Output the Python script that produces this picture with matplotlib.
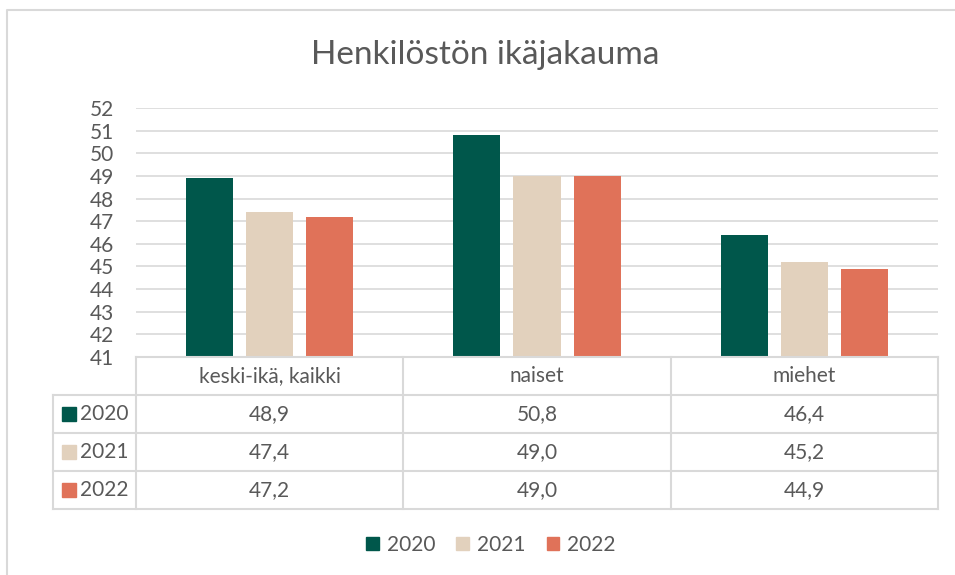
import numpy as np
import matplotlib.pyplot as plt
from matplotlib.patches import Rectangle

plt.rcParams['font.family'] = ['Lato', 'DejaVu Sans']

categories = ['keski-ikä, kaikki', 'naiset', 'miehet']
years = ['2020', '2021', '2022']
v2020 = [48.9, 50.8, 46.4]
v2021 = [47.4, 49.0, 45.2]
v2022 = [47.2, 49.0, 44.9]
series = [v2020, v2021, v2022]
colors = ['#00574B', '#E2D1BD', '#E07259']
txt = '#595959'
grid = '#D9D9D9'
fs = 15

W, H = 955, 575
fig = plt.figure(figsize=(W / 100, H / 100), dpi=100)

def box(x0, y0, x1, y1):
    # pixel box (top-left origin) -> figure fraction rect
    return [x0 / W, 1 - y1 / H, (x1 - x0) / W, (y1 - y0) / H]

# outer chart border (only left/top visible in the crop)
bg = fig.add_axes(box(0, 0, W, H))
bg.set_xlim(0, W)
bg.set_ylim(H, 0)
bg.axis('off')
bg.plot([7, 7, W + 5], [H + 5, 10, 10], color=grid, lw=1.5)

fig.text(485 / W, 1 - 55 / H, 'Henkilöstön ikäjakauma', ha='center', va='center',
         fontsize=24, color=txt)

# bar area
ax = fig.add_axes(box(136, 108, 938, 357))
x = np.arange(len(categories))
w = 0.176
step = 0.225
for i, (vals, c) in enumerate(zip(series, colors)):
    ax.bar(x + (i - 1) * step, np.array(vals) - 41, w, bottom=41, color=c, zorder=3)
ax.set_xlim(-0.5, 2.5)
ax.set_ylim(41, 52)
ax.set_yticks(range(41, 53))
ax.set_xticks([])
ax.grid(axis='y', color=grid, lw=1.2, zorder=0)
for s in ax.spines.values():
    s.set_visible(False)
ax.tick_params(axis='y', length=0, labelsize=fs, labelcolor=txt, pad=16)

# data table below the bars
tb = fig.add_axes(box(136, 357, 938, 509))
tb.set_xlim(-0.5, 2.5)
tb.set_ylim(4, 0)
tb.axis('off')
left = -0.5 - (136 - 53) / (802 / 3)
lk = dict(color=grid, lw=1.5, clip_on=False)
tb.plot([-0.5, 2.5], [0, 0], **lk)
for r in range(1, 5):
    tb.plot([left, 2.5], [r, r], **lk)
for cx in [-0.5, 0.5, 1.5, 2.5]:
    tb.plot([cx, cx], [0, 4], **lk)
tb.plot([left, left], [1, 4], **lk)
for j, cat in enumerate(categories):
    tb.text(j, 0.5, cat, ha='center', va='center', fontsize=fs, color=txt)
for i, (yr, vals, c) in enumerate(zip(years, series, colors)):
    r = i + 1.5
    tb.add_patch(Rectangle((left + 0.033, r - 0.18), 0.052, 0.36, color=c, clip_on=False))
    tb.text(left + 0.1, r, yr, ha='left', va='center', fontsize=fs, color=txt)
    for j, v in enumerate(vals):
        tb.text(j, r, f'{v:.1f}'.replace('.', ','), ha='center', va='center',
                fontsize=fs, color=txt)

handles = [Rectangle((0, 0), 1, 1, color=c) for c in colors]
fig.legend(handles, years, loc='center', bbox_to_anchor=(491 / W, 1 - 545 / H),
           ncol=3, frameon=False, fontsize=fs, labelcolor=txt,
           handlelength=0.6, handleheight=0.6, handletextpad=0.4, columnspacing=1.0)

fig.savefig('out.png', dpi=100)
